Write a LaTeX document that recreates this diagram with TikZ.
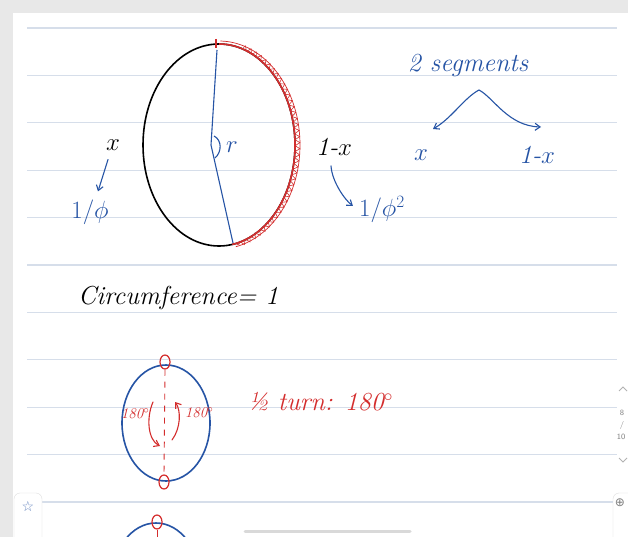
\documentclass[tikz,border=0pt]{standalone}
\usepackage{fontspec}
\newfontfamily\symbfont{DejaVu Sans}
\usetikzlibrary{arrows.meta, positioning, shapes.geometric, decorations.pathmorphing}
\definecolor{inkblue}{RGB}{38,84,165}
\definecolor{inkred}{RGB}{212,45,45}
\definecolor{ruleblue}{RGB}{214,222,234}
\tikzset{
  ink/.style={line width=1.6pt, line cap=round},
  hand/.style={font=\itshape\fontsize{26}{26}\selectfont, inner sep=0pt},
  bighand/.style={font=\itshape\fontsize{32}{32}\selectfont, inner sep=0pt},
  deg/.style={font=\itshape\fontsize{15}{15}\selectfont, text=inkred, inner sep=0pt},
  barb/.style={-{Straight Barb[length=5pt, width=7pt]}, line width=1.1pt, line cap=round},
  oval/.style={draw=inkred, ellipse, line width=1.2pt, minimum width=10pt, minimum height=14pt, inner sep=0pt},
}

\begin{document}
\begin{tikzpicture}[x=1pt, y=-1pt]
\useasboundingbox (0,0) rectangle (628,537);
\clip (0,0) rectangle (628,537);

% page and rules
\fill[gray!18] (0,0) rectangle (628,537);
\fill[white] (13,13) rectangle (640,560);
\foreach \k in {0,...,10}
  \draw[ruleblue, line width=1.2pt] (27,{28+47.4*\k}) -- (617,{28+47.4*\k});

% first circle
\coordinate (c1) at (219,145);
\draw[ink, black] (c1) ellipse[x radius=76, y radius=101];
\draw[inkred, line width=1.6pt] ([shift={(-90:76 and 101)}]c1)
  arc[start angle=-90, end angle=80, x radius=76, y radius=101];
\draw[inkred, line width=0.7pt] ([shift={(-89:81 and 104)}]c1)
  arc[start angle=-89, end angle=78, x radius=81, y radius=104];
\draw[inkred, line width=0.6pt, decorate, decoration={zigzag, segment length=6pt, amplitude=2.4pt}]
  ([shift={(-72:78.5 and 102.5)}]c1) arc[start angle=-72, end angle=77, x radius=78.5, y radius=102.5];
\draw[inkred, line width=1.2pt] (216,39) -- (216,48);

\coordinate (top1) at (217,50);
\coordinate (mid1) at (211,145);
\coordinate (bot1) at (233,243);
\draw[inkblue, line width=1.1pt] (top1) -- (mid1) -- (bot1);
\draw[inkblue, line width=1.1pt] (214,136) .. controls (222,140) and (222,152) .. (215,158);
\node[bighand, text=inkblue] (rlab) at (232,147) {$r$};

\node[bighand] (xlab) at (113,145) {$x$};
\node[hand] (onemx) at (334,147) {1-$x$};
\node[hand, text=inkblue] (invphi) at (90,212) {$1/\phi$};
\node[hand, text=inkblue] (invphisq) at (382,210) {$1/\phi^2$};
\draw[barb, inkblue] ([shift={(-5,9)}]xlab.south) -- ([shift={(8,-8)}]invphi.north);
\draw[barb, inkblue] ([shift={(-3,10)}]onemx.south) .. controls +(1,16) and +(-8,-6) .. ([shift={(-6,-4)}]invphisq.west);

% two segments
\node[hand, text=inkblue] (segs) at (468,66) {2 segments};
\coordinate (peak) at (479,90);
\node[bighand, text=inkblue] (segx) at (421,155) {$x$};
\node[hand, text=inkblue] (segy) at (537,155) {1-$x$};
\coordinate (segxend) at (433,129);
\coordinate (segyend) at (541,127);
\draw[barb, inkblue] (peak) .. controls (464,98) and (452,118) .. (segxend);
\draw[barb, inkblue] (peak) .. controls (494,98) and (508,126) .. (segyend);

\node[hand, anchor=west] (circ) at (78,298) {Circumference= 1};

% half turn circle
\coordinate (c2) at (166,423);
\draw[inkblue, line width=1.6pt] (c2) ellipse[x radius=44, y radius=58];
\node[oval] (northpt) at (165,362) {};
\node[oval] (southpt) at (164,482) {};
\draw[inkred, line width=0.9pt, dash pattern=on 6pt off 6pt] (northpt.south) -- (southpt.north);
\node[deg] (degl) at (135,414) {180$^\circ$};
\node[deg] (degr) at (199,413) {180$^\circ$};
\draw[barb, inkred] (153,402) .. controls (146,418) and (148,440) .. (160,446);
\draw[barb, inkred] (172,440) .. controls (181,428) and (181,410) .. (175,402);
\node[hand, text=inkred, anchor=west] (half) at (248,402) {\textonehalf\ turn: 180$^\circ$};

% next circle
\coordinate (c3) at (156,581);
\draw[inkblue, line width=1.6pt] (c3) ellipse[x radius=44, y radius=58];
\node[oval] (northpt3) at (157,522) {};
\draw[inkred, line width=0.9pt] (northpt3.south) -- ++(0,8);

% app frame
\draw[gray!30, line width=3pt, line cap=round] (245,531) -- (410,531);
\draw[gray!25, fill=white, rounded corners=6pt] (14,493) rectangle (42,570);
\node[text=inkblue!70, font=\symbfont\fontsize{14}{14}\selectfont] (star) at (28,506) {☆};
\draw[gray!25, fill=white, rounded corners=6pt] (613,493) rectangle (660,570);
\node[text=gray, font=\symbfont\fontsize{12}{12}\selectfont] (plus) at (620,503) {⊕};
\draw[gray!60, line width=0.8pt] (619,391) -- (623,387) -- (627,391);
\node[text=gray, font=\sffamily\fontsize{8}{9}\selectfont] (pgnum) at (622,413) {8};
\node[text=gray, font=\sffamily\fontsize{8}{9}\selectfont] (pgsep) at (622,425) {/};
\node[text=gray, font=\sffamily\fontsize{8}{9}\selectfont] (pgall) at (621,437) {10};
\draw[gray!60, line width=0.8pt] (619,458) -- (623,462) -- (627,458);

\end{tikzpicture}
\end{document}
